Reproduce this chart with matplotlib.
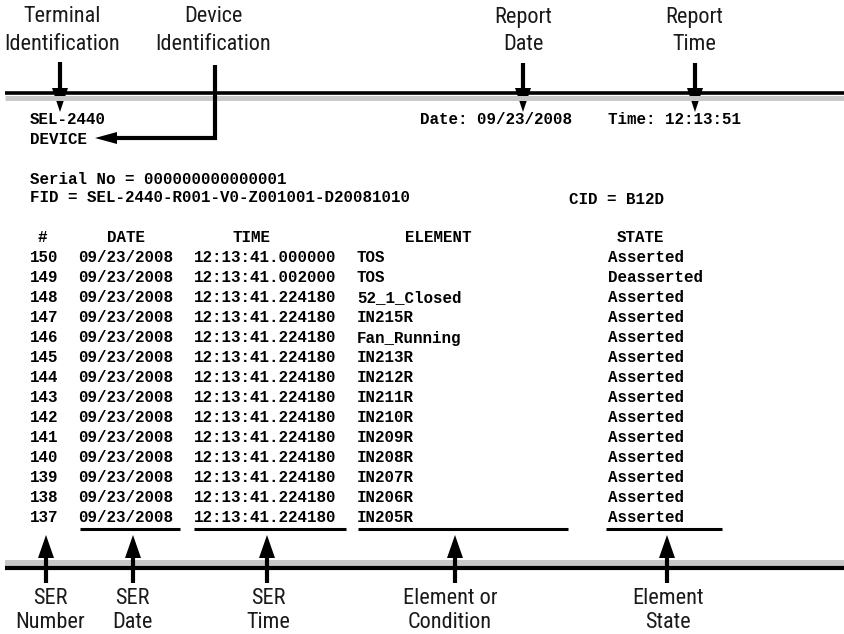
"""Annotated SER report layout, redrawn in pixel coordinates."""

import matplotlib
import matplotlib.pyplot as plt

matplotlib.use("Agg")

W, H = 845, 634
ROW0, ROW_STEP = 258, 20

LABEL_FONT = ["Roboto Condensed", "Roboto", "DejaVu Sans"]
# Liberation Mono advance is 0.6 em -> 11.4 pt gives the 9.5 px pitch of the report
MONO_FONT = ["Liberation Mono", "DejaVu Sans Mono"]
MONO_SIZE = 11.4

# ---- report text -----------------------------------------------------------
ser_numbers = ["150", "149", "148", "147", "146", "145", "144",
               "143", "142", "141", "140", "139", "138", "137"]
ser_dates = ["09/23/2008"] * 14
ser_times = ["12:13:41.000000", "12:13:41.002000"] + ["12:13:41.224180"] * 12
elements = ["TOS", "TOS", "52_1_Closed", "IN215R", "Fan_Running", "IN213R",
            "IN212R", "IN211R", "IN210R", "IN209R", "IN208R", "IN207R",
            "IN206R", "IN205R"]
states = ["Asserted", "Deasserted"] + ["Asserted"] * 12

col_headers = ["#", "DATE", "TIME", "ELEMENT", "STATE"]
terminal_id = "SEL-2440"
device_id = "DEVICE"
report_date = "Date: 09/23/2008"
report_time = "Time: 12:13:51"
serial_line = "Serial No = 000000000000001"
fid_line = "FID = SEL-2440-R001-V0-Z001001-D20081010"
cid_line = "CID = B12D"

top_labels = ["Terminal\nIdentification", "Device\nIdentification",
              "Report\nDate", "Report\nTime"]
bottom_labels = ["SER\nNumber", "SER\nDate", "SER\nTime",
                 "Element or\nCondition", "Element\nState"]


def mono(ax, x0, y, s):
    ax.text(x0, y, s, family=MONO_FONT, fontsize=MONO_SIZE,
            fontweight="bold", ha="left", va="center")


def label(ax, x, y, s, gap=27):
    for k, line in enumerate(s.split("\n")):
        ax.text(x, y + k * gap, line, family=LABEL_FONT, fontsize=16,
                fontstretch="condensed", ha="center", va="center",
                color="#1a1a1a")


def v_arrow(ax, x, y_from, y_tip, head=24, half=8):
    sign = 1 if y_tip > y_from else -1
    base = y_tip - sign * head
    ax.plot([x, x], [y_from, base], color="black", lw=3, solid_capstyle="butt")
    ax.fill([x - half, x + half, x], [base, base, y_tip], color="black", lw=0)


fig = plt.figure(figsize=(W / 100, H / 100), dpi=100)
ax = fig.add_axes([0, 0, 1, 1])
ax.set_xlim(0, W)
ax.set_ylim(H, 0)
ax.axis("off")

# page bands
ax.plot([5, W], [98, 98], color="#c8c8c8", lw=3.6, solid_capstyle="butt")
ax.plot([5, W], [93, 93], color="black", lw=2.6, solid_capstyle="butt")
ax.plot([5, W], [563, 563], color="#c8c8c8", lw=4.3, solid_capstyle="butt")
ax.plot([5, W], [568, 568], color="black", lw=3.0, solid_capstyle="butt")

# report header
mono(ax, 30, 120, terminal_id)
mono(ax, 30, 139, device_id)
mono(ax, 420, 120, report_date)
mono(ax, 608, 120, report_time)
mono(ax, 30, 179, serial_line)
mono(ax, 30, 198, fid_line)
mono(ax, 569, 199, cid_line)

# table
header_x = [38, 107, 233, 405, 617]
col_x = [30, 78, 194, 357, 608]
for hx, h in zip(header_x, col_headers):
    mono(ax, hx, 238, h)
for i, row in enumerate(zip(ser_numbers, ser_dates, ser_times, elements, states)):
    y = ROW0 + i * ROW_STEP
    for cx, val in zip(col_x, row):
        mono(ax, cx, y, val)

# underlines under the last row
for x0, x1 in [(80, 180), (194, 346), (358, 568), (606, 722)]:
    ax.plot([x0, x1], [529, 529], color="black", lw=2.2, solid_capstyle="butt")

# top annotations
label(ax, 62, 17, top_labels[0])
label(ax, 213, 17, top_labels[1])
label(ax, 523, 17, top_labels[2])
label(ax, 694, 17, top_labels[3])
v_arrow(ax, 60, 62, 112)
v_arrow(ax, 523, 63, 112)
v_arrow(ax, 695, 63, 112)
ax.plot([215, 215, 116], [65, 138, 138], color="black", lw=3,
        solid_joinstyle="miter", solid_capstyle="butt")
ax.fill([117, 117, 95], [132, 144, 138], color="black", lw=0)

# bottom annotations
for x, lx, s in zip([46, 133, 267, 455, 667], [50, 132, 268, 450, 668],
                    bottom_labels):
    v_arrow(ax, x, 583, 535, head=23)
    label(ax, lx, 599, s, gap=23)

fig.savefig("out.png", dpi=100)
